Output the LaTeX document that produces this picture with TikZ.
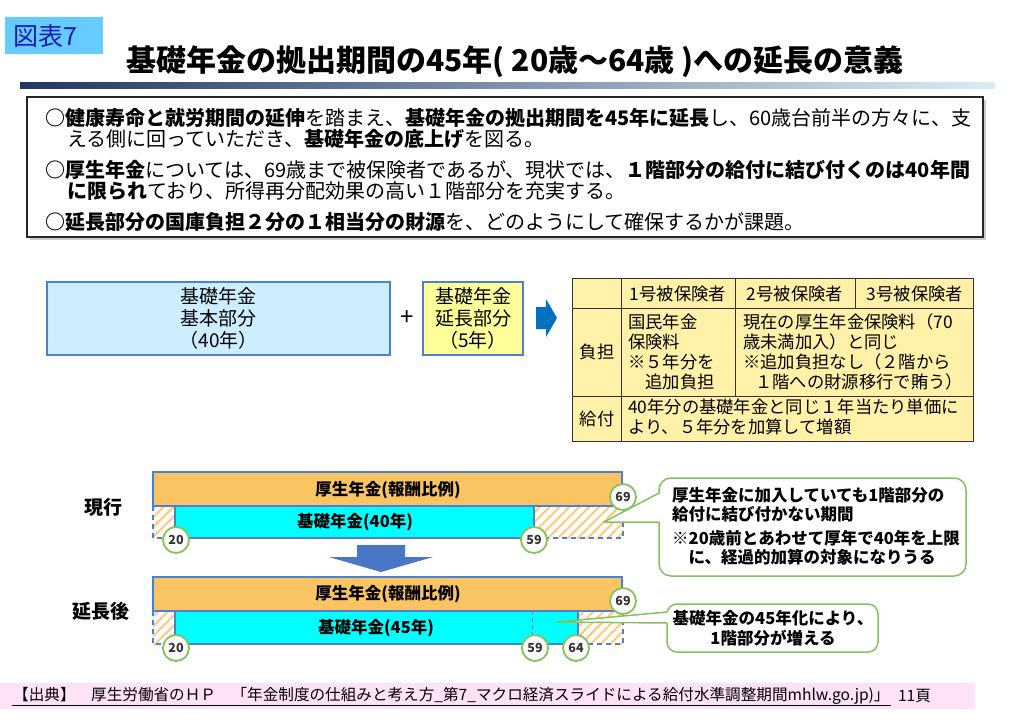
\documentclass[tikz,border=0pt]{standalone}
\usepackage{fontspec}
\setmainfont{Noto Sans CJK JP}
\usetikzlibrary{patterns.meta}
\definecolor{tagblue}{HTML}{66CCFF}
\definecolor{tagtext}{HTML}{1A1AB8}
\definecolor{barL}{HTML}{1F3864}
\definecolor{barM}{HTML}{4BA3C8}
\definecolor{barR}{HTML}{DDEBF5}
\definecolor{edgeblue}{HTML}{4F7FD0}
\definecolor{paleblue}{HTML}{CCEEFF}
\definecolor{paleyellow}{HTML}{FFFF99}
\definecolor{tabyellow}{HTML}{FFF1A8}
\definecolor{arrowblue}{HTML}{0070C0}
\definecolor{kosei}{HTML}{FBC463}
\definecolor{kiso}{HTML}{00FFFF}
\definecolor{hatchc}{HTML}{FFC978}
\definecolor{cgreen}{HTML}{84C25E}
\definecolor{downblue}{HTML}{4A76C6}
\definecolor{pinkbg}{HTML}{FFE1F8}
\tikzset{
  txt/.style={inner sep=0pt, anchor=west, font=\fontsize{20}{21}\selectfont},
  partbox/.style={draw=edgeblue, line width=1.5pt, inner sep=0pt, align=center, font=\fontsize{19}{22}\selectfont, minimum height=73pt},
  tabtxt/.style={inner sep=0pt, font=\fontsize{17.3}{20}\selectfont},
  bartxt/.style={inner sep=0pt, font=\fontsize{16.5}{17}\selectfont\bfseries},
  barbox/.style={draw=edgeblue, line width=1.5pt},
  hatchfill/.style={pattern={Lines[angle=45,distance=7pt,line width=2pt]}, pattern color=hatchc},
  dashbox/.style={draw=edgeblue, line width=1.5pt, dash pattern=on 5pt off 4pt},
  agecirc/.style={circle, draw=cgreen, fill=white, line width=1.8pt, minimum size=26pt, inner sep=0pt, font=\fontsize{12.5}{13}\selectfont\bfseries, text=black!80},
  calloutbox/.style={draw=cgreen, line width=1.5pt, fill=white, rounded corners=12pt, inner sep=0pt},
  calltxt/.style={inner sep=0pt, font=\fontsize{16.5}{17}\selectfont\bfseries},
  rowlabel/.style={inner sep=0pt, font=\fontsize{19}{19}\selectfont\bfseries},
}
\begin{document}
\begin{tikzpicture}[x=1pt,y=-1pt]
\useasboundingbox (0,0) rectangle (1009,720);
\fill[white] (0,0) rectangle (1009,720);

% tag and title
\node[fill=tagblue, minimum width=98pt, minimum height=37pt, inner sep=0pt] (tag) at (54,35.5) {};
\node[inner sep=0pt, anchor=west, font=\fontsize{25}{25}\selectfont, text=tagtext] (tagtxt) at (13,36) {図表7};
\node[inner sep=0pt, font=\fontsize{30}{30}\selectfont\bfseries] (title) at (515,62) {基礎年金の拠出期間の45年( 20歳～64歳 )への延長の意義};
\shade[left color=barL, middle color=barM, right color=barR] (20,82) rectangle (995,88);

% summary box
\draw[black!20, line width=2pt] (30,239) -- (985,239) -- (985,100);
\node[draw=black!85, line width=1.5pt, minimum width=956pt, minimum height=140pt, inner sep=0pt] (summary) at (505,167) {};
\node[txt] (s1) at (45,118) {{\bfseries ○健康寿命と就労期間の延伸}を踏まえ、{\bfseries 基礎年金の拠出期間を45年に延長}し、60歳台前半の方々に、支};
\node[txt] (s2) at (67,139) {える側に回っていただき、{\bfseries 基礎年金の底上げ}を図る。};
\node[txt] (s3) at (45,170) {{\bfseries ○厚生年金}については、69歳まで被保険者であるが、現状では、{\bfseries １階部分の給付に結び付くのは40年間}};
\node[txt] (s4) at (67,191) {{\bfseries に限られ}ており、所得再分配効果の高い１階部分を充実する。};
\node[txt] (s5) at (45,222) {{\bfseries ○延長部分の国庫負担２分の１相当分の財源}を、どのようにして確保するかが課題。};

% upper parts
\node[partbox, fill=paleblue, minimum width=343pt] (basic) at (218.5,318.5) {基礎年金\\基本部分\\（40年）};
\node[inner sep=0pt, font=\fontsize{24}{24}\selectfont] (plus) at (407,318) {+};
\node[partbox, fill=paleyellow, minimum width=100pt] (extpart) at (473,318.5) {基礎年金\\延長部分\\（5年）};
\fill[arrowblue] (536,307) -- (546,307) -- (546,299) -- (557,318) -- (546,337) -- (546,329) -- (536,329) -- cycle;

% table
\node[draw=black!80, fill=tabyellow, line width=1pt, minimum width=401pt, minimum height=163pt, inner sep=0pt] (table) at (772.5,359.5) {};
\draw[black!80, line width=1pt] (621,278) -- (621,441) (735,278) -- (735,396) (855,278) -- (855,308) (572,308) -- (973,308) (572,396) -- (973,396);
\node[tabtxt] (h1) at (678,294) {1号被保険者};
\node[tabtxt] (h2) at (795,294) {2号被保険者};
\node[tabtxt] (h3) at (915,294) {3号被保険者};
\node[tabtxt] (futan) at (597,352) {負担};
\node[tabtxt] (kyufu) at (597,419) {給付};
\node[tabtxt, anchor=west, align=left] (c11) at (628,352) {国民年金\\保険料\\※５年分を\\　追加負担};
\node[tabtxt, anchor=west, align=left] (c12) at (743,352) {現在の厚生年金保険料（70\\歳未満加入）と同じ\\※追加負担なし（２階から\\\hspace{0.7em}１階への財源移行で賄う）};
\node[tabtxt, anchor=west, align=left] (c21) at (628,417) {40年分の基礎年金と同じ１年当たり単価に\\より、５年分を加算して増額};

% lower: current
\node[rowlabel] (now) at (103,507) {現行};
\fill[hatchfill] (153,506) rectangle (175,538);
\fill[hatchfill] (534,506) rectangle (623,538);
\draw[dashbox] (153,506) rectangle (623,538);
\draw[barbox, fill=kosei] (153,472) rectangle (622,506);
\draw[barbox, fill=kiso] (175,506) rectangle (534,538);
\node[bartxt] (k1) at (388,490) {厚生年金(報酬比例)};
\node[bartxt] (b1) at (355,522) {基礎年金(40年)};
\node[agecirc] (a20) at (176,540) {20};
\node[agecirc] (a59) at (534,540) {59};
\node[agecirc] (a69) at (623,497) {69};

% down arrow
\fill[downblue] (357,545) -- (405,545) -- (405,557) -- (433,557) -- (381,572) -- (329,557) -- (357,557) -- cycle;

% lower: extended
\node[rowlabel] (after) at (101,611) {延長後};
\fill[hatchfill] (153,611) rectangle (175,644);
\fill[hatchfill] (578,611) rectangle (623,644);
\draw[dashbox] (153,611) rectangle (623,644);
\draw[barbox, fill=kosei] (153,577) rectangle (622,611);
\draw[barbox, fill=kiso] (175,611) rectangle (578,644);
\draw[edgeblue, line width=1pt, dash pattern=on 4pt off 3pt] (532,611) -- (532,644);
\node[bartxt] (k2) at (388,594) {厚生年金(報酬比例)};
\node[bartxt] (b2) at (376,628) {基礎年金(45年)};
\node[agecirc] (d20) at (176,648) {20};
\node[agecirc] (d59) at (535,648) {59};
\node[agecirc] (d64) at (576,648) {64};
\node[agecirc] (d69) at (623,601) {69};

% callout 1
\node[calloutbox, minimum width=307pt, minimum height=98pt] (call1) at (812.5,527) {};
\coordinate (tip1) at (604,522);
\coordinate (p1a) at (659,493);
\coordinate (p1b) at (659,522);
\fill[white] ([xshift=2pt]p1a) -- (tip1) -- ([xshift=2pt]p1b) -- cycle;
\draw[cgreen, line width=1.5pt, line join=round] (p1a) -- (tip1) -- (p1b);
\node[calltxt, anchor=west] (t1) at (672,495) {厚生年金に加入していても1階部分の};
\node[calltxt, anchor=west] (t2) at (672,514) {給付に結び付かない期間};
\node[calltxt, anchor=west] (t3) at (672,538) {※20歳前とあわせて厚年で40年を上限};
\node[calltxt, anchor=west] (t4) at (672,557) {　に、経過的加算の対象になりうる};

% callout 2
\node[calloutbox, rounded corners=10pt, minimum width=211pt, minimum height=48pt] (call2) at (772.5,628) {};
\coordinate (tip2) at (557,622);
\coordinate (p2a) at (667,612);
\coordinate (p2b) at (667,623);
\fill[white] ([xshift=2pt]p2a) -- (tip2) -- ([xshift=2pt]p2b) -- cycle;
\draw[cgreen, line width=1.5pt, line join=round] (p2a) -- (tip2) -- (p2b);
\node[calltxt] (u1) at (773,618) {基礎年金の45年化により、};
\node[calltxt] (u2) at (773,638) {1階部分が増える};

% footer
\fill[pinkbg] (0,683) rectangle (975,709);
\node[inner sep=1pt, anchor=west, font=\fontsize{15.6}{16}\selectfont] (src) at (12,696) {【出典】　厚生労働省のＨＰ　「年金制度の仕組みと考え方\_第7\_マクロ経済スライドによる給付水準調整期間mhlw.go.jp)」};
\draw[black, line width=1pt] (src.south west) -- (src.south east);
\node[inner sep=1pt, anchor=west, font=\fontsize{15.6}{16}\selectfont] (page) at ([xshift=6pt]src.east) {11頁};
\end{tikzpicture}
\end{document}
